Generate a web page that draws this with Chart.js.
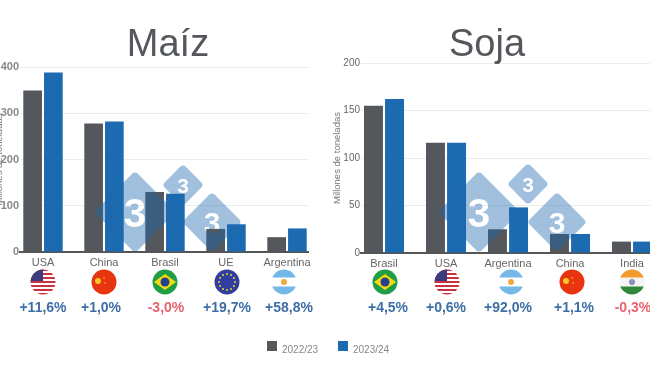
<!DOCTYPE html>
<html lang="es">
<head>
<meta charset="utf-8">
<title>Maíz y Soja</title>
<script src="https://cdn.jsdelivr.net/npm/chart.js@4"></script>
<style>
  html, body { margin: 0; padding: 0; background: #fff; }
  #page { position: relative; width: 650px; height: 366px; overflow: hidden; font-family: "Liberation Sans", Arial, sans-serif; }
  canvas { position: absolute; top: 0; }
  .title { position: absolute; top: 21px; font-size: 38px; line-height: 44px; color: #54575b; transform: translateX(-50%); }
  .flag { position: absolute; top: 269px; width: 26px; height: 26px; transform: translateX(-50%); }
  .pct { position: absolute; top: 299px; font-size: 14px; line-height: 16px; font-weight: bold; transform: translateX(-50%); white-space: nowrap; }
  .up { color: #3d6fa5; }
  .down { color: #e8636f; }
  .swatch { position: absolute; top: 341px; width: 10px; height: 10px; }
  .legend { position: absolute; top: 344px; font-size: 10px; line-height: 12px; color: #888; }
  #mark { position: absolute; left: 0; top: 0; pointer-events: none; }
</style>
</head>
<body>
<div id="page">
  <canvas id="maiz" width="340" height="290" style="left:-14px"></canvas>
  <canvas id="soja" width="343" height="290" style="left:325px"></canvas>
  <svg id="mark" width="650" height="366"></svg>
  <div class="title" style="left:168px">Maíz</div>
  <div class="title" style="left:487px">Soja</div>
  <div class="swatch" style="left:267px;background:#54575b"></div>
  <div class="legend" style="left:282px">2022/23</div>
  <div class="swatch" style="left:338px;background:#1c6ab0"></div>
  <div class="legend" style="left:353px">2023/24</div>
</div>
<script>
const seriesNames = ["2022/23", "2023/24"];

const maizCountries = ["USA", "China", "Brasil", "UE", "Argentina"];
const maiz2223 = [349, 278, 130, 50, 32];
const maiz2324 = [388, 282, 126, 60, 51];
const maizChange = ["+11,6%", "+1,0%", "-3,0%", "+19,7%", "+58,8%"];
const maizTicks = [0, 100, 200, 300, 400];

const sojaCountries = ["Brasil", "USA", "Argentina", "China", "India"];
const soja2223 = [155, 116, 25, 20, 12];
const soja2324 = [162, 116, 48, 20, 12];
const sojaChange = ["+4,5%", "+0,6%", "+92,0%", "+1,1%", "-0,3%"];
const sojaTicks = [0, 50, 100, 150, 200];

const GREY = "#54575b";
const BLUE = "#1c6ab0";

function makeChart(id, names, a, b, ticks, box) {
  new Chart(document.getElementById(id), {
    type: "bar",
    data: {
      datasets: [
        { label: seriesNames[0], data: a.map((v, i) => ({ x: i, y: v })), backgroundColor: GREY },
        { label: seriesNames[1], data: b.map((v, i) => ({ x: i, y: v })), backgroundColor: BLUE }
      ]
    },
    options: {
      responsive: false,
      animation: false,
      layout: { padding: { top: box.top, left: box.left, right: box.right, bottom: 0 } },
      datasets: { bar: { categoryPercentage: 0.68, barPercentage: 0.9 } },
      plugins: { legend: { display: false }, tooltip: { enabled: false } },
      scales: {
        // linear x so the axis can stop short of the category edges like the original
        x: {
          type: "linear",
          bounds: "data",
          offset: false,
          min: box.xMin,
          max: box.xMax,
          afterBuildTicks: (s) => { s.ticks = names.map((n, i) => ({ value: i })); },
          afterFit: (s) => { s.height = box.xHeight; },
          grid: { display: false, drawTicks: false },
          border: { color: "#555", width: 2 },
          ticks: {
            maxRotation: 0,
            autoSkip: false,
            padding: 4,
            color: "#666",
            font: { family: "Liberation Sans", size: 11 },
            callback: (v) => names[v]
          }
        },
        y: {
          min: ticks[0],
          max: ticks[ticks.length - 1],
          afterFit: (s) => { s.width = box.yWidth; },
          grid: { color: "#ececec", drawTicks: false },
          border: { display: false },
          ticks: {
            stepSize: ticks[1] - ticks[0],
            padding: 1,
            color: box.tickColor,
            font: { family: "Liberation Sans", size: box.tickSize, weight: box.tickWeight }
          },
          title: {
            display: true,
            text: "Millones de toneladas",
            color: "#777",
            padding: 0,
            font: { family: "Liberation Sans", size: 9.5 }
          }
        }
      }
    }
  });
}

makeChart("maiz", maizCountries, maiz2223, maiz2324, maizTicks, {
  top: 67, left: 8, right: 18, xHeight: 38, yWidth: 26,
  xMin: -0.377, xMax: 4.344, tickColor: "#888", tickSize: 11, tickWeight: "bold"
});
makeChart("soja", sojaCountries, soja2223, soja2324, sojaTicks, {
  top: 63, left: 7, right: 4, xHeight: 37, yWidth: 29,
  xMin: -0.371, xMax: 4.516, tickColor: "#666", tickSize: 10, tickWeight: "normal"
});

// flags
const flags = {
  USA: '<rect width="26" height="26" fill="#fff"/>' +
    [0, 4, 8, 12, 16, 20, 24].map((y) => `<rect y="${y}" width="26" height="2" fill="#c8313e"/>`).join("") +
    '<rect width="13" height="12" fill="#3c3b7e"/>',
  China: '<rect width="26" height="26" fill="#e8340f"/>' +
    '<circle cx="7" cy="12" r="3" fill="#f7c928"/><circle cx="13" cy="9" r="0.8" fill="#f7c928"/><circle cx="14" cy="14" r="0.8" fill="#f7c928"/>',
  Brasil: '<rect width="26" height="26" fill="#1f9e45"/>' +
    '<path d="M13 5 L24 13 L13 21 L2 13 Z" fill="#f6d90f"/><circle cx="13" cy="13" r="4.5" fill="#24418f"/>',
  UE: '<rect width="26" height="26" fill="#2f3f9e"/>' +
    [...Array(12).keys()].map((i) => {
      const t = i * Math.PI / 6;
      return `<circle cx="${13 + 8 * Math.cos(t)}" cy="${13 + 8 * Math.sin(t)}" r="1" fill="#f3d23a"/>`;
    }).join(""),
  Argentina: '<rect width="26" height="26" fill="#fff"/>' +
    '<rect width="26" height="8.5" fill="#74b8e8"/><rect y="17.5" width="26" height="8.5" fill="#74b8e8"/>' +
    '<circle cx="13" cy="13" r="3" fill="#f0a93c"/>',
  India: '<rect width="26" height="26" fill="#f4f4f4"/>' +
    '<rect width="26" height="8.5" fill="#f39a2c"/><rect y="17.5" width="26" height="8.5" fill="#2e8a3a"/>' +
    '<circle cx="13" cy="13" r="3" fill="#8a8fc0"/>'
};

const page = document.getElementById("page");

function addRow(names, changes, flagX, pctX) {
  names.forEach((name, i) => {
    const id = "clip" + Math.round(flagX[i]);
    page.insertAdjacentHTML("beforeend",
      `<svg class="flag" style="left:${flagX[i]}px" viewBox="0 0 26 26">` +
      `<clipPath id="${id}"><circle cx="13" cy="13" r="12.5"/></clipPath>` +
      `<g clip-path="url(#${id})">${flags[name]}</g></svg>`);
    const cls = changes[i][0] === "-" ? "down" : "up";
    page.insertAdjacentHTML("beforeend",
      `<div class="pct ${cls}" style="left:${pctX[i]}px">${changes[i]}</div>`);
  });
}
addRow(maizCountries, maizChange, [43, 104, 165, 227, 284], [43, 101, 166, 227, 289]);
addRow(sojaCountries, sojaChange, [385, 447, 511, 572, 632], [388, 446, 508, 574, 633]);

// watermark: translucent diamonds over the bars, the 3 is a hole cut through them
let markId = 0;
function diamond(cx, cy, half) {
  const side = half * Math.SQRT2;
  const id = "hole" + markId++;
  return `<mask id="${id}" maskUnits="userSpaceOnUse" x="0" y="0" width="650" height="366">` +
    `<rect width="650" height="366" fill="#fff"/>` +
    `<text x="${cx}" y="${cy + half * 0.36}" text-anchor="middle" fill="#000" font-weight="bold"` +
    ` font-family="Liberation Sans" font-size="${half}">3</text></mask>` +
    `<g mask="url(#${id})"><rect x="${cx - side / 2}" y="${cy - side / 2}" width="${side}" height="${side}" rx="4"` +
    ` fill="${BLUE}" fill-opacity="0.42" transform="rotate(45 ${cx} ${cy})"/></g>`;
}
document.getElementById("mark").innerHTML =
  diamond(135, 212, 41) + diamond(183, 185, 21) + diamond(212, 222, 30) +
  diamond(479, 212, 41) + diamond(528, 184, 21) + diamond(557, 222, 30);
</script>
</body>
</html>
